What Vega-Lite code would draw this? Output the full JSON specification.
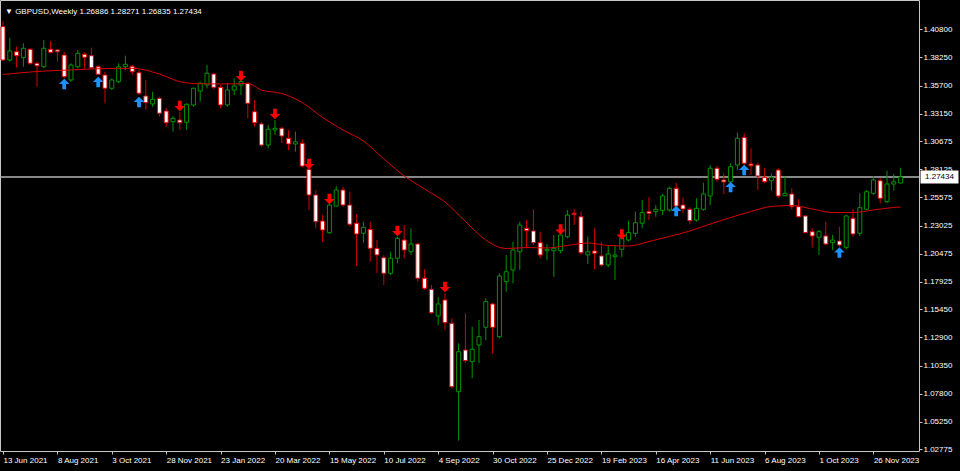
{
"$schema": "https://vega.github.io/schema/vega-lite/v6.json",
"width": 919, "height": 451,
"autosize": {"type": "none"},
"padding": {"left": 0, "top": 0, "right": 41, "bottom": 20},
"background": "#000000",
"config": {"view": {"stroke": "#c8c8c8", "strokeWidth": 1}, "font": "Liberation Sans", "axis": {"labelOverlap": false}, "axisY": {"labelOverlap": false}, "scale": {"continuousPadding": 0}},
"title": {"text": "▼   GBPUSD,Weekly  1.26886 1.28271 1.26835 1.27434", "anchor": "start", "frame": "group", "orient": "top", "baseline": "top", "offset": -16, "dx": 5, "color": "#ffffff", "fontSize": 8, "fontWeight": "normal", "font": "Liberation Sans"},
"datasets": {
"candles": [
{"d":"2021-06-13","o":1.4104,"h":1.4155,"l":1.3793,"c":1.3802},
{"d":"2021-06-20","o":1.3802,"h":1.4004,"l":1.3787,"c":1.3884},
{"d":"2021-06-27","o":1.3877,"h":1.3923,"l":1.3732,"c":1.3841},
{"d":"2021-07-04","o":1.3823,"h":1.3953,"l":1.3741,"c":1.3908},
{"d":"2021-07-11","o":1.3899,"h":1.3908,"l":1.3757,"c":1.3772},
{"d":"2021-07-18","o":1.3772,"h":1.3787,"l":1.3560,"c":1.3750},
{"d":"2021-07-25","o":1.3741,"h":1.3983,"l":1.3727,"c":1.3908},
{"d":"2021-08-01","o":1.3899,"h":1.3974,"l":1.3863,"c":1.3872},
{"d":"2021-08-08","o":1.3893,"h":1.3899,"l":1.3787,"c":1.3877},
{"d":"2021-08-15","o":1.3847,"h":1.3877,"l":1.3636,"c":1.3651},
{"d":"2021-08-22","o":1.3621,"h":1.3772,"l":1.3606,"c":1.3757},
{"d":"2021-08-29","o":1.3741,"h":1.3893,"l":1.3727,"c":1.3863},
{"d":"2021-09-05","o":1.3854,"h":1.3872,"l":1.3727,"c":1.3827},
{"d":"2021-09-12","o":1.3841,"h":1.3913,"l":1.3727,"c":1.3732},
{"d":"2021-09-19","o":1.3741,"h":1.3757,"l":1.3666,"c":1.3673},
{"d":"2021-09-26","o":1.3666,"h":1.3696,"l":1.3410,"c":1.3546},
{"d":"2021-10-03","o":1.3546,"h":1.3636,"l":1.3530,"c":1.3621},
{"d":"2021-10-10","o":1.3606,"h":1.3772,"l":1.3591,"c":1.3741},
{"d":"2021-10-17","o":1.3741,"h":1.3841,"l":1.3712,"c":1.3763},
{"d":"2021-10-24","o":1.3745,"h":1.3757,"l":1.3666,"c":1.3696},
{"d":"2021-10-31","o":1.3687,"h":1.3712,"l":1.3485,"c":1.3501},
{"d":"2021-11-07","o":1.3476,"h":1.3621,"l":1.3349,"c":1.3416},
{"d":"2021-11-14","o":1.3404,"h":1.3515,"l":1.3379,"c":1.3446},
{"d":"2021-11-21","o":1.3455,"h":1.3470,"l":1.3289,"c":1.3320},
{"d":"2021-11-28","o":1.3340,"h":1.3368,"l":1.3198,"c":1.3234},
{"d":"2021-12-05","o":1.3243,"h":1.3295,"l":1.3153,"c":1.3274},
{"d":"2021-12-12","o":1.3259,"h":1.3334,"l":1.3168,"c":1.3234},
{"d":"2021-12-19","o":1.3238,"h":1.3410,"l":1.3168,"c":1.3401},
{"d":"2021-12-26","o":1.3395,"h":1.3551,"l":1.3379,"c":1.3546},
{"d":"2022-01-02","o":1.3521,"h":1.3606,"l":1.3425,"c":1.3591},
{"d":"2022-01-09","o":1.3576,"h":1.3757,"l":1.3546,"c":1.3682},
{"d":"2022-01-16","o":1.3675,"h":1.3687,"l":1.3537,"c":1.3555},
{"d":"2022-01-23","o":1.3555,"h":1.3576,"l":1.3365,"c":1.3395},
{"d":"2022-01-30","o":1.3395,"h":1.3591,"l":1.3379,"c":1.3530},
{"d":"2022-02-06","o":1.3530,"h":1.3636,"l":1.3485,"c":1.3567},
{"d":"2022-02-13","o":1.3576,"h":1.3636,"l":1.3485,"c":1.3606},
{"d":"2022-02-20","o":1.3591,"h":1.3597,"l":1.3274,"c":1.3410},
{"d":"2022-02-27","o":1.3334,"h":1.3440,"l":1.3198,"c":1.3234},
{"d":"2022-03-06","o":1.3223,"h":1.3243,"l":1.3017,"c":1.3032},
{"d":"2022-03-13","o":1.3032,"h":1.3214,"l":1.3003,"c":1.3175},
{"d":"2022-03-20","o":1.3168,"h":1.3259,"l":1.3123,"c":1.3184},
{"d":"2022-03-27","o":1.3184,"h":1.3195,"l":1.3051,"c":1.3114},
{"d":"2022-04-03","o":1.3093,"h":1.3168,"l":1.2987,"c":1.3042},
{"d":"2022-04-10","o":1.3042,"h":1.3153,"l":1.2972,"c":1.3062},
{"d":"2022-04-17","o":1.3048,"h":1.3084,"l":1.2831,"c":1.2842},
{"d":"2022-04-24","o":1.2812,"h":1.2836,"l":1.2444,"c":1.2580},
{"d":"2022-05-01","o":1.2580,"h":1.2625,"l":1.2278,"c":1.2338},
{"d":"2022-05-08","o":1.2344,"h":1.2399,"l":1.2157,"c":1.2263},
{"d":"2022-05-15","o":1.2239,"h":1.2535,"l":1.2227,"c":1.2489},
{"d":"2022-05-22","o":1.2480,"h":1.2661,"l":1.2474,"c":1.2625},
{"d":"2022-05-29","o":1.2625,"h":1.2655,"l":1.2474,"c":1.2489},
{"d":"2022-06-05","o":1.2489,"h":1.2610,"l":1.2293,"c":1.2315},
{"d":"2022-06-12","o":1.2324,"h":1.2408,"l":1.1937,"c":1.2227},
{"d":"2022-06-19","o":1.2233,"h":1.2338,"l":1.2148,"c":1.2287},
{"d":"2022-06-26","o":1.2269,"h":1.2338,"l":1.1976,"c":1.2097},
{"d":"2022-07-03","o":1.2097,"h":1.2172,"l":1.1876,"c":1.2037},
{"d":"2022-07-10","o":1.2012,"h":1.2037,"l":1.1765,"c":1.1871},
{"d":"2022-07-17","o":1.1871,"h":1.2066,"l":1.1855,"c":1.2007},
{"d":"2022-07-24","o":1.2007,"h":1.2202,"l":1.1961,"c":1.2188},
{"d":"2022-07-31","o":1.2172,"h":1.2308,"l":1.2007,"c":1.2082},
{"d":"2022-08-07","o":1.2066,"h":1.2278,"l":1.2037,"c":1.2136},
{"d":"2022-08-14","o":1.2136,"h":1.2148,"l":1.1795,"c":1.1826},
{"d":"2022-08-21","o":1.1826,"h":1.1907,"l":1.1720,"c":1.1735},
{"d":"2022-08-28","o":1.1726,"h":1.1765,"l":1.1502,"c":1.1514},
{"d":"2022-09-04","o":1.1484,"h":1.1654,"l":1.1403,"c":1.1593},
{"d":"2022-09-11","o":1.1629,"h":1.1690,"l":1.1358,"c":1.1424},
{"d":"2022-09-18","o":1.1418,"h":1.1463,"l":1.0830,"c":1.0844},
{"d":"2022-09-25","o":1.0799,"h":1.1237,"l":1.0355,"c":1.1161},
{"d":"2022-10-02","o":1.1176,"h":1.1509,"l":1.1061,"c":1.1080},
{"d":"2022-10-09","o":1.1071,"h":1.1387,"l":1.0920,"c":1.1183},
{"d":"2022-10-16","o":1.1222,"h":1.1448,"l":1.1056,"c":1.1297},
{"d":"2022-10-23","o":1.1382,"h":1.1645,"l":1.1267,"c":1.1614},
{"d":"2022-10-30","o":1.1593,"h":1.1605,"l":1.1147,"c":1.1382},
{"d":"2022-11-06","o":1.1297,"h":1.1871,"l":1.1282,"c":1.1846},
{"d":"2022-11-13","o":1.1795,"h":1.2037,"l":1.1704,"c":1.1885},
{"d":"2022-11-20","o":1.1901,"h":1.2157,"l":1.1780,"c":1.2082},
{"d":"2022-11-27","o":1.2066,"h":1.2338,"l":1.1901,"c":1.2308},
{"d":"2022-12-04","o":1.2278,"h":1.2353,"l":1.2097,"c":1.2257},
{"d":"2022-12-11","o":1.2254,"h":1.2450,"l":1.2127,"c":1.2148},
{"d":"2022-12-18","o":1.2148,"h":1.2248,"l":1.2007,"c":1.2037},
{"d":"2022-12-25","o":1.2075,"h":1.2136,"l":1.1991,"c":1.2088},
{"d":"2023-01-01","o":1.2075,"h":1.2218,"l":1.1840,"c":1.2097},
{"d":"2023-01-08","o":1.2075,"h":1.2245,"l":1.2052,"c":1.2218},
{"d":"2023-01-15","o":1.2202,"h":1.2444,"l":1.2188,"c":1.2399},
{"d":"2023-01-22","o":1.2414,"h":1.2450,"l":1.2308,"c":1.2405},
{"d":"2023-01-29","o":1.2383,"h":1.2429,"l":1.2037,"c":1.2057},
{"d":"2023-02-05","o":1.2037,"h":1.2202,"l":1.1955,"c":1.2066},
{"d":"2023-02-12","o":1.2073,"h":1.2278,"l":1.1907,"c":1.2052},
{"d":"2023-02-19","o":1.2028,"h":1.2157,"l":1.1931,"c":1.1946},
{"d":"2023-02-26","o":1.1946,"h":1.2127,"l":1.1925,"c":1.2046},
{"d":"2023-03-05","o":1.2021,"h":1.2127,"l":1.1810,"c":1.2037},
{"d":"2023-03-12","o":1.2088,"h":1.2218,"l":1.2016,"c":1.2188},
{"d":"2023-03-19","o":1.2172,"h":1.2347,"l":1.2157,"c":1.2239},
{"d":"2023-03-26","o":1.2233,"h":1.2429,"l":1.2202,"c":1.2329},
{"d":"2023-04-02","o":1.2324,"h":1.2535,"l":1.2278,"c":1.2420},
{"d":"2023-04-09","o":1.2429,"h":1.2559,"l":1.2353,"c":1.2414},
{"d":"2023-04-16","o":1.2429,"h":1.2489,"l":1.2383,"c":1.2450},
{"d":"2023-04-23","o":1.2438,"h":1.2589,"l":1.2399,"c":1.2571},
{"d":"2023-04-30","o":1.2444,"h":1.2655,"l":1.2429,"c":1.2640},
{"d":"2023-05-07","o":1.2640,"h":1.2691,"l":1.2459,"c":1.2480},
{"d":"2023-05-14","o":1.2489,"h":1.2559,"l":1.2414,"c":1.2453},
{"d":"2023-05-21","o":1.2450,"h":1.2468,"l":1.2317,"c":1.2347},
{"d":"2023-05-28","o":1.2353,"h":1.2550,"l":1.2338,"c":1.2459},
{"d":"2023-06-04","o":1.2450,"h":1.2691,"l":1.2438,"c":1.2589},
{"d":"2023-06-11","o":1.2571,"h":1.2851,"l":1.2489,"c":1.2822},
{"d":"2023-06-18","o":1.2822,"h":1.2842,"l":1.2700,"c":1.2722},
{"d":"2023-06-25","o":1.2716,"h":1.2776,"l":1.2589,"c":1.2698},
{"d":"2023-07-02","o":1.2700,"h":1.2867,"l":1.2691,"c":1.2836},
{"d":"2023-07-09","o":1.2851,"h":1.3144,"l":1.2806,"c":1.3093},
{"d":"2023-07-16","o":1.3102,"h":1.3138,"l":1.2851,"c":1.2867},
{"d":"2023-07-23","o":1.2860,"h":1.3003,"l":1.2761,"c":1.2845},
{"d":"2023-07-30","o":1.2851,"h":1.2872,"l":1.2625,"c":1.2752},
{"d":"2023-08-06","o":1.2740,"h":1.2822,"l":1.2686,"c":1.2700},
{"d":"2023-08-13","o":1.2709,"h":1.2776,"l":1.2619,"c":1.2740},
{"d":"2023-08-20","o":1.2806,"h":1.2822,"l":1.2550,"c":1.2571},
{"d":"2023-08-27","o":1.2573,"h":1.2746,"l":1.2571,"c":1.2595},
{"d":"2023-09-03","o":1.2589,"h":1.2640,"l":1.2450,"c":1.2474},
{"d":"2023-09-10","o":1.2474,"h":1.2541,"l":1.2378,"c":1.2383},
{"d":"2023-09-17","o":1.2390,"h":1.2399,"l":1.2233,"c":1.2239},
{"d":"2023-09-24","o":1.2248,"h":1.2278,"l":1.2106,"c":1.2209},
{"d":"2023-10-01","o":1.2197,"h":1.2263,"l":1.2037,"c":1.2248},
{"d":"2023-10-08","o":1.2209,"h":1.2338,"l":1.2127,"c":1.2136},
{"d":"2023-10-15","o":1.2148,"h":1.2218,"l":1.2082,"c":1.2172},
{"d":"2023-10-22","o":1.2163,"h":1.2293,"l":1.2112,"c":1.2127},
{"d":"2023-10-29","o":1.2106,"h":1.2399,"l":1.2088,"c":1.2390},
{"d":"2023-11-05","o":1.2369,"h":1.2450,"l":1.2202,"c":1.2227},
{"d":"2023-11-12","o":1.2233,"h":1.2595,"l":1.2209,"c":1.2465},
{"d":"2023-11-19","o":1.2450,"h":1.2625,"l":1.2444,"c":1.2610},
{"d":"2023-11-26","o":1.2595,"h":1.2752,"l":1.2580,"c":1.2716},
{"d":"2023-12-03","o":1.2709,"h":1.2731,"l":1.2505,"c":1.2550},
{"d":"2023-12-10","o":1.2519,"h":1.2800,"l":1.2505,"c":1.2679},
{"d":"2023-12-17","o":1.2679,"h":1.2770,"l":1.2619,"c":1.2700},
{"d":"2023-12-24","o":1.26886,"h":1.28271,"l":1.26835,"c":1.27434}
],
"ma": [
{"d":"2021-06-13","v":1.3671},{"d":"2021-07-18","v":1.3698},{"d":"2021-08-22","v":1.3712},{"d":"2021-09-26","v":1.3725},
{"d":"2021-10-24","v":1.3727},{"d":"2021-11-21","v":1.3675},{"d":"2021-12-12","v":1.3606},{"d":"2021-12-26","v":1.3589},
{"d":"2022-01-23","v":1.3585},{"d":"2022-02-20","v":1.3589},{"d":"2022-03-06","v":1.3530},{"d":"2022-03-27","v":1.3499},
{"d":"2022-04-17","v":1.3417},{"d":"2022-05-08","v":1.3282},{"d":"2022-05-29","v":1.3168},{"d":"2022-06-19","v":1.3069},
{"d":"2022-07-10","v":1.2906},{"d":"2022-07-31","v":1.2752},{"d":"2022-08-21","v":1.2634},{"d":"2022-09-11","v":1.2516},
{"d":"2022-10-02","v":1.2340},{"d":"2022-10-23","v":1.2172},{"d":"2022-11-13","v":1.2095},{"d":"2022-12-04","v":1.2104},
{"d":"2022-12-25","v":1.2100},{"d":"2023-01-15","v":1.2123},{"d":"2023-02-05","v":1.2145},{"d":"2023-02-26","v":1.2123},
{"d":"2023-03-19","v":1.2118},{"d":"2023-04-09","v":1.2159},{"d":"2023-04-30","v":1.2204},{"d":"2023-05-21","v":1.2254},
{"d":"2023-06-11","v":1.2317},{"d":"2023-07-02","v":1.2376},{"d":"2023-07-23","v":1.2430},{"d":"2023-08-13","v":1.2476},
{"d":"2023-09-03","v":1.2485},{"d":"2023-09-24","v":1.2453},{"d":"2023-10-15","v":1.2421},{"d":"2023-11-05","v":1.2421},
{"d":"2023-11-26","v":1.2444},{"d":"2023-12-17","v":1.2467},{"d":"2023-12-24","v":1.2471}
],
"arrows": [
{"d":"2021-08-15","p":1.3585,"s":"buy"},
{"d":"2021-09-19","p":1.3603,"s":"buy"},
{"d":"2021-10-31","p":1.3422,"s":"buy"},
{"d":"2021-12-12","p":1.3386,"s":"sell"},
{"d":"2022-02-13","p":1.3657,"s":"sell"},
{"d":"2022-03-20","p":1.3313,"s":"sell"},
{"d":"2022-04-24","p":1.2860,"s":"sell"},
{"d":"2022-05-15","p":1.2544,"s":"sell"},
{"d":"2022-07-24","p":1.2254,"s":"sell"},
{"d":"2022-09-11","p":1.1747,"s":"sell"},
{"d":"2023-01-08","p":1.2267,"s":"sell"},
{"d":"2023-03-12","p":1.2222,"s":"sell"},
{"d":"2023-05-07","p":1.2435,"s":"buy"},
{"d":"2023-07-02","p":1.2652,"s":"buy"},
{"d":"2023-07-16","p":1.2806,"s":"buy"},
{"d":"2023-10-22","p":1.2059,"s":"buy"}
],
"last": [{"d":"2023-12-24","p":1.27434}]
},
"layer": [
{
"data": {"name": "last"},
"mark": {"type": "rule", "color": "#b4b4b4", "strokeWidth": 1.5},
"encoding": {
"y": {"field": "p", "type": "quantitative",
"scale": {"domain": [1.02619, 1.43453], "zero": false, "nice": false, "padding": 0},
"axis": {"orient": "right", "title": null, "grid": false, "domain": false, "tickSize": 3, "tickColor": "#c8c8c8", "tickCount": 40,
"labelPadding": 1, "labelColor": "#ffffff", "labelFontSize": 8, "labelFont": "Liberation Sans", "format": ".5f",
"labelOverlap": false, "labelFlush": false, "labelBound": false,
"values": [1.408, 1.3825, 1.357, 1.3315, 1.30675, 1.28125, 1.25575, 1.23025, 1.20475, 1.17925, 1.1545, 1.129, 1.1035, 1.078, 1.0525, 1.02775]}}
}
},
{
"data": {"name": "candles"},
"mark": {"type": "rule", "strokeWidth": 1},
"encoding": {
"x": {"field": "d", "type": "temporal",
"scale": {"type": "utc", "padding": 0, "domain": [{"year": 2021, "month": 6, "date": 9, "hours": 21, "minutes": 53, "utc": true}, {"year": 2024, "month": 1, "date": 11, "hours": 22, "minutes": 36, "utc": true}]},
"axis": {"title": null, "grid": false, "domain": false, "tickSize": 3, "tickColor": "#c8c8c8", "tickCount": 40,
"labelAlign": "left", "labelBaseline": "top", "labelPadding": 2, "labelColor": "#ffffff", "labelFontSize": 8, "labelFont": "Liberation Sans",
"labelOverlap": false, "labelFlush": false, "labelBound": false,
"labelExpr": "utcFormat(datum.value, '%-d %b %Y')",
"values": [
{"year": 2021, "month": 6, "date": 13, "utc": true},
{"year": 2021, "month": 8, "date": 8, "utc": true},
{"year": 2021, "month": 10, "date": 3, "utc": true},
{"year": 2021, "month": 11, "date": 28, "utc": true},
{"year": 2022, "month": 1, "date": 23, "utc": true},
{"year": 2022, "month": 3, "date": 20, "utc": true},
{"year": 2022, "month": 5, "date": 15, "utc": true},
{"year": 2022, "month": 7, "date": 10, "utc": true},
{"year": 2022, "month": 9, "date": 4, "utc": true},
{"year": 2022, "month": 10, "date": 30, "utc": true},
{"year": 2022, "month": 12, "date": 25, "utc": true},
{"year": 2023, "month": 2, "date": 19, "utc": true},
{"year": 2023, "month": 4, "date": 16, "utc": true},
{"year": 2023, "month": 6, "date": 11, "utc": true},
{"year": 2023, "month": 8, "date": 6, "utc": true},
{"year": 2023, "month": 10, "date": 1, "utc": true},
{"year": 2023, "month": 11, "date": 26, "utc": true}
]}},
"y": {"field": "l", "type": "quantitative"},
"y2": {"field": "h"},
"color": {"condition": {"test": "datum.c >= datum.o", "value": "#009400"}, "value": "#d80000"}
}
},
{
"data": {"name": "candles"},
"mark": {"type": "bar", "size": 4, "strokeWidth": 1},
"encoding": {
"x": {"field": "d", "type": "temporal"},
"y": {"field": "o", "type": "quantitative"},
"y2": {"field": "c"},
"fill": {"condition": {"test": "datum.c >= datum.o", "value": "#000000"}, "value": "#ffffff"},
"stroke": {"condition": {"test": "datum.c >= datum.o", "value": "#009400"}, "value": "#e00000"}
}
},
{
"data": {"name": "ma"},
"mark": {"type": "line", "color": "#d80000", "strokeWidth": 1, "interpolate": "monotone"},
"encoding": {
"x": {"field": "d", "type": "temporal"},
"y": {"field": "v", "type": "quantitative"}
}
},
{
"data": {"name": "arrows"},
"mark": {"type": "point", "filled": true, "size": 110, "opacity": 1},
"encoding": {
"x": {"field": "d", "type": "temporal"},
"y": {"field": "p", "type": "quantitative"},
"shape": {"field": "s", "type": "nominal", "legend": null,
"scale": {"domain": ["buy", "sell"], "range": ["M0,-1L1,0L0.36,0L0.36,1L-0.36,1L-0.36,0L-1,0Z", "M0,1L1,0L0.36,0L0.36,-1L-0.36,-1L-0.36,0L-1,0Z"]}},
"color": {"field": "s", "type": "nominal", "legend": null,
"scale": {"domain": ["buy", "sell"], "range": ["#1e90ff", "#ff0000"]}}
}
},
{
"data": {"name": "last"},
"mark": {"type": "point", "filled": true, "size": 1444, "opacity": 1, "color": "#ffffff", "xOffset": 20.5, "shape": "M-1,-0.34L1,-0.34L1,0.34L-1,0.34Z"},
"encoding": {
"x": {"datum": {"year": 2024, "month": 1, "date": 11, "hours": 22, "minutes": 36, "utc": true}, "type": "temporal"},
"y": {"field": "p", "type": "quantitative"}
}
},
{
"data": {"name": "last"},
"mark": {"type": "text", "color": "#000000", "fontSize": 8, "font": "Liberation Sans", "align": "center", "baseline": "middle", "dx": 20.5},
"encoding": {
"x": {"datum": {"year": 2024, "month": 1, "date": 11, "hours": 22, "minutes": 36, "utc": true}, "type": "temporal"},
"y": {"field": "p", "type": "quantitative"},
"text": {"field": "p", "type": "quantitative", "format": ".5f"}
}
}
]
}
